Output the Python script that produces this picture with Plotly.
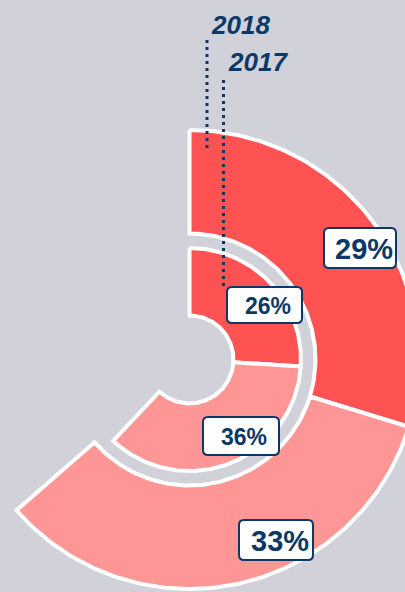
import numpy as np
import plotly.graph_objects as go

# ---- data ----
years = ["2018", "2017"]
segments = ["Segment A", "Segment B"]
share_2018 = [29, 33]
share_2017 = [26, 36]
hidden_rest = [35.5, 38]            # undrawn remainder of each ring
labels_2018 = ["29%", "33%"]
labels_2017 = ["26%", "36%"]

# ---- layout constants (pixels) ----
W, H = 405, 592
CX, CY = 189.5, 359.5
RINGS = {"2018": (126, 229.5), "2017": (44, 111.5)}
COLORS = ["#FF5252", "#FF9696"]
NAVY = "#0C3868"
BG = "#D0D1D9"
FONT = "Liberation Sans, Arial, sans-serif"

fig = go.Figure()


def arc_poly(t0, t1, r_in, r_out, n=140):
    th = np.linspace(t0, t1, n)
    xo = CX + r_out * np.sin(th)
    yo = CY - r_out * np.cos(th)
    xi = CX + r_in * np.sin(th[::-1])
    yi = CY - r_in * np.cos(th[::-1])
    x = np.concatenate([xo, xi, xo[:1]])
    y = np.concatenate([yo, yi, yo[:1]])
    return x, y


for year, vals, rest in zip(years, [share_2018, share_2017], hidden_rest):
    r_in, r_out = RINGS[year]
    total = sum(vals) + rest
    cum = 0
    for seg, v, col in zip(segments, vals, COLORS):
        t0 = 2 * np.pi * cum / total
        t1 = 2 * np.pi * (cum + v) / total
        cum += v
        x, y = arc_poly(t0, t1, r_in, r_out)
        fig.add_trace(go.Scatter(
            x=x, y=y, mode="lines", fill="toself", fillcolor=col,
            line=dict(color="white", width=4), name=f"{year} {seg}",
            hoverinfo="name", showlegend=False))


def rounded_rect(x0, y0, x1, y1, r=5):
    return (f"M {x0+r},{y0} L {x1-r},{y0} Q {x1},{y0} {x1},{y0+r} "
            f"L {x1},{y1-r} Q {x1},{y1} {x1-r},{y1} L {x0+r},{y1} "
            f"Q {x0},{y1} {x0},{y1-r} L {x0},{y0+r} Q {x0},{y0} {x0+r},{y0} Z")


# value labels: box (x0, y0, x1, y1), text centre, font size
label_box = {
    "29%": ((324, 228, 396, 268), (364, 249), 29),
    "33%": ((239, 520, 313, 560), (280, 541), 29),
    "26%": ((227, 287, 302, 323), (268, 305.5), 23),
    "36%": ((203, 417, 279, 455), (244, 436.5), 23),
}
for lab in labels_2018 + labels_2017:
    (x0, y0, x1, y1), (tx, ty), fs = label_box[lab]
    fig.add_shape(type="path", path=rounded_rect(x0, y0, x1, y1), xref="x", yref="y",
                  fillcolor="white", line=dict(color=NAVY, width=2), layer="above")
    fig.add_annotation(
        x=tx, y=ty, xref="x", yref="y", text=f"<b>{lab}</b>", showarrow=False,
        font=dict(family=FONT, size=fs, color=NAVY),
        xanchor="center", yanchor="middle")

# year labels with dotted leaders
year_pos = {"2018": (240, 25), "2017": (258, 62)}
leaders = {"2018": (207, 40, 148), "2017": (223.5, 80, 287)}
for yr in years:
    lx, y0, y1 = leaders[yr]
    fig.add_shape(type="line", x0=lx, x1=lx, y0=y0, y1=y1, xref="x", yref="y",
                  line=dict(color=NAVY, width=3, dash="3px,4px"), layer="above")
    x, y = year_pos[yr]
    fig.add_annotation(
        x=x, y=y, xref="x", yref="y", text=f"<b><i>{yr}</i></b>", showarrow=False,
        font=dict(family=FONT, size=26, color=NAVY),
        xanchor="center", yanchor="middle")

fig.update_layout(
    width=W, height=H, autosize=False,
    margin=dict(l=0, r=0, t=0, b=0),
    paper_bgcolor=BG, plot_bgcolor=BG,
    xaxis=dict(range=[0, W], visible=False, fixedrange=True),
    yaxis=dict(range=[H, 0], visible=False, fixedrange=True),
    showlegend=False,
)

fig.write_html("out.html", config={"displayModeBar": False},
               post_script="document.body.style.margin='0';"
                           "document.body.style.overflow='hidden';"
                           "document.body.style.background='" + BG + "';")
